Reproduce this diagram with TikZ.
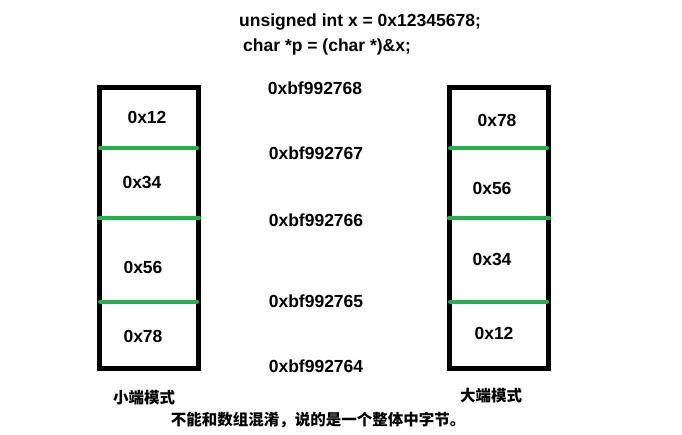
\documentclass[tikz,border=0pt]{standalone}
\usepackage{fontspec}
\setmainfont{Liberation Sans}
\newfontfamily\cjk{Noto Sans CJK SC}
\definecolor{pgreen}{HTML}{22B14C}
\begin{document}
\begin{tikzpicture}[x=1pt,y=-1pt,
  lbl/.style={font=\fontsize{17.5}{20}\selectfont\bfseries, inner sep=0pt},
  cj/.style={font=\fontsize{15.5}{18}\selectfont\cjk\bfseries, inner sep=0pt},
  memframe/.style={draw=black, line width=5pt},
  divider/.style={draw=pgreen, line width=4pt, line cap=round}]
\useasboundingbox (0,0) rectangle (682,434);
% header
\node[lbl] (h1) at (360,22) {unsigned int x = 0x12345678;};
\node[lbl, anchor=west] (h2) at (243,47) {char *p = (char *)\&x;};
% left box
\draw[memframe] (99.5,87.5) rectangle (198.5,368.5);
\coordinate (l1a) at (100,148.3); \coordinate (l1b) at (197,148.3);
\coordinate (l2a) at (99,218.3); \coordinate (l2b) at (199,218.3);
\coordinate (l3a) at (100,301.7); \coordinate (l3b) at (197,301.7);
\draw[divider] (l1a) -- (l1b);
\draw[divider] (l2a) -- (l2b);
\draw[divider] (l3a) -- (l3b);
% right box
\draw[memframe] (449.5,87.5) rectangle (548.5,368.5);
\coordinate (r1a) at (450,148.3); \coordinate (r1b) at (547,148.3);
\coordinate (r2a) at (449,218.3); \coordinate (r2b) at (549,218.3);
\coordinate (r3a) at (450,301.7); \coordinate (r3b) at (547,301.7);
\draw[divider] (r1a) -- (r1b);
\draw[divider] (r2a) -- (r2b);
\draw[divider] (r3a) -- (r3b);
% left labels
\node[lbl] (la) at (147,117) {0x12};
\node[lbl] (lb) at (142,182) {0x34};
\node[lbl] (lc) at (143,267) {0x56};
\node[lbl] (ld) at (143,336) {0x78};
% right labels
\node[lbl] (ra) at (497,120) {0x78};
\node[lbl] (rb) at (492,188) {0x56};
\node[lbl] (rc) at (492,259) {0x34};
\node[lbl] (rd) at (494,333) {0x12};
% addresses
\node[lbl] (a8) at (315,88) {0xbf992768};
\node[lbl] (a7) at (316,153) {0xbf992767};
\node[lbl] (a6) at (316,220) {0xbf992766};
\node[lbl] (a5) at (316,301) {0xbf992765};
\node[lbl] (a4) at (316,366) {0xbf992764};
% bottom
\node[cj] (small) at (144,398) {小端模式};
\node[cj] (big) at (491,396) {大端模式};
\node[cj] (note) at (318,420) {不能和数组混淆，说的是一个整体中字节。};
\end{tikzpicture}
\end{document}
